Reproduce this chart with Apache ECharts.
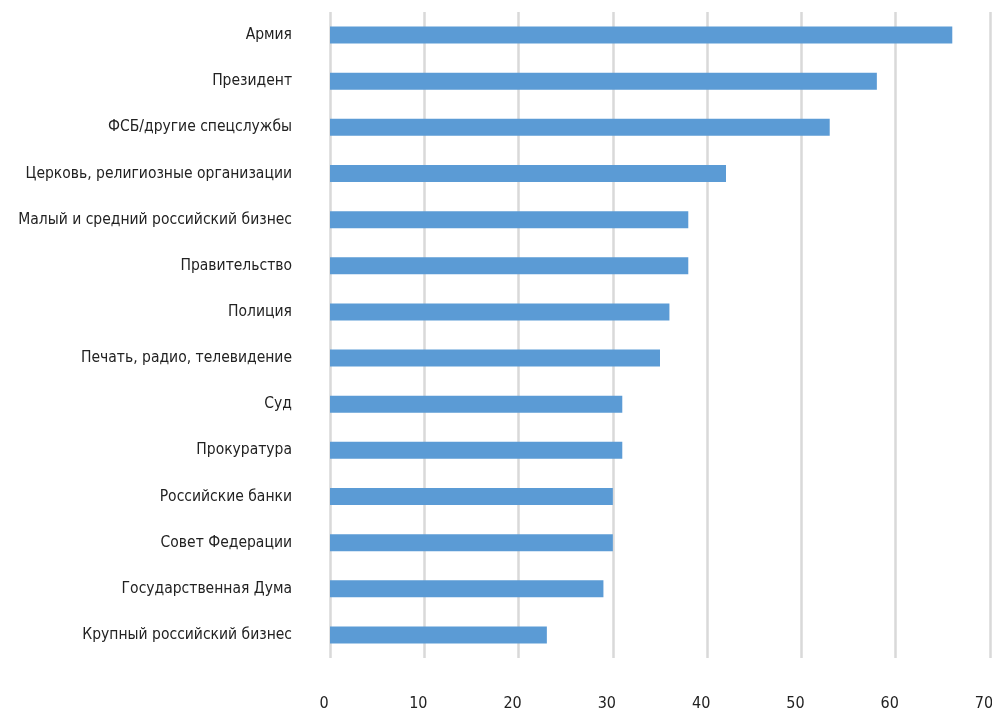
<!DOCTYPE html>
<html><head><meta charset="utf-8">
<script src="https://cdn.jsdelivr.net/npm/echarts@6/dist/echarts.min.js"></script>
<style>html,body{margin:0;padding:0;background:#fff}#c{width:992px;height:708px}</style>
</head><body><div id="c"></div>
<script>
const categories = ["Армия","Президент","ФСБ/другие спецслужбы","Церковь, религиозные организации","Малый и средний российский бизнес","Правительство","Полиция","Печать, радио, телевидение","Суд","Прокуратура","Российские банки","Совет Федерации","Государственная Дума","Крупный российский бизнес"];
const values = [66, 58, 53, 42, 38, 38, 36, 35, 31, 31, 30, 30, 29, 23];
const xTicks = [0, 10, 20, 30, 40, 50, 60, 70];

const font = '"Liberation Sans Narrow", "DejaVu Sans Condensed", "Roboto", sans-serif';
const chart = echarts.init(document.getElementById('c'));
chart.setOption({
  animation: false,
  grid: {left: 330, right: 2, top: 12, bottom: 50, containLabel: false, outerBoundsMode: 'none'},
  xAxis: {
    type: 'value', min: xTicks[0], max: xTicks[xTicks.length-1], interval: 10,
    axisLine: {show: false}, axisTick: {show: false},
    splitLine: {show: true, lineStyle: {color: '#d9d9d9', width: 2.5}},
    axisLabel: {margin: 38, color: '#222', fontFamily: font, fontSize: 16, padding: [0, 12, 0, 0]}
  },
  yAxis: {
    type: 'category', data: categories, inverse: true,
    axisLine: {show: false}, axisTick: {show: false},
    axisLabel: {margin: 38, color: '#222', fontFamily: font, fontSize: 15.5}
  },
  series: [{
    type: 'bar', data: values, barWidth: 17,
    itemStyle: {color: '#5b9bd5'}
  }]
});
</script></body></html>
